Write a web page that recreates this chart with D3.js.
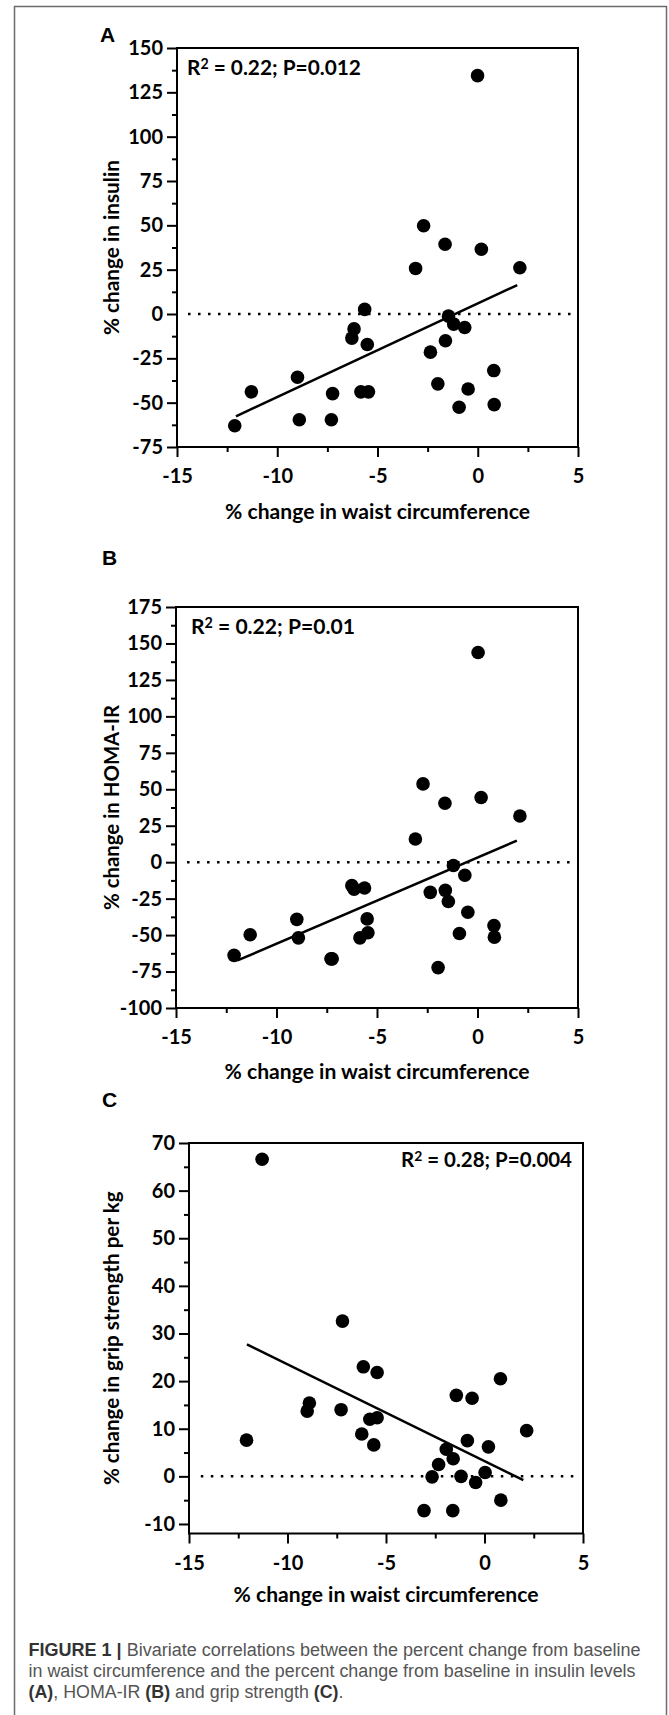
<!DOCTYPE html>
<html>
<head>
<meta charset="utf-8">
<script src="https://cdn.jsdelivr.net/npm/d3@7"></script>
<style>
  body { margin: 0; background: #fff; }
  svg { display: block; }
  .tick text { font-family: Lato, 'Open Sans', sans-serif; font-weight: 700; font-size: 20px; fill: #000; }
  .axis-title { font-family: Lato, 'Open Sans', sans-serif; font-weight: 700; font-size: 20px; fill: #000; }
  .stat { font-family: Lato, 'Open Sans', sans-serif; font-weight: 700; font-size: 20px; fill: #000; }
  .panel-label { font-family: 'Liberation Sans', Arial, sans-serif; font-weight: 700; font-size: 21px; fill: #000; }
  .caption { font-family: 'Liberation Sans', Arial, sans-serif; font-size: 18px; fill: #555; }
</style>
</head>
<body>
<svg width="669" height="1715"></svg>
<script>
  // x axis is shared by all panels
  const xTicks = [-15, -10, -5, 0, 5];
  const xMinor = [-12.5, -7.5, -2.5, 2.5];

  // panel A: % change in insulin
  const waistA = [-0.01, -2.70, -1.63, 0.18, -3.10, 2.10, -5.64, -1.46, -1.20, -0.65, -6.17, -6.28, -5.51, -1.61,
    -2.36, 0.80, -8.99, -11.29, -7.24, -5.83, -5.45, -1.99, -0.48, -0.93, 0.82, -8.90, -7.30, -12.12];
  const insulin = [134.4, 49.8, 39.3, 36.5, 25.7, 26.1, 2.6, -1.2, -5.7, -7.6, -8.4, -13.6, -17.2, -15.1,
    -21.5, -31.9, -35.7, -43.9, -44.9, -43.9, -43.9, -39.4, -42.3, -52.6, -51.1, -59.6, -59.6, -63.0];
  const fitA = [[-12.06, -57.7], [1.97, 16.3]];
  const yTicksA = [-75, -50, -25, 0, 25, 50, 75, 100, 125, 150];
  const yMinorA = [-62.5, -37.5, -12.5, 12.5, 37.5, 62.5, 87.5, 112.5, 137.5];

  // panel B: % change in HOMA-IR
  const waistB = [0.03, -2.71, 0.18, -1.62, 2.11, -3.09, -1.20, -0.63, -6.25, -6.14, -5.62, -2.35, -1.60, -1.45,
    -0.48, -8.99, -5.49, 0.82, -11.31, -5.45, -0.90, -8.91, -5.85, 0.84, -12.11, -7.29, -7.23, -1.96];
  const homa = [143.8, 53.7, 44.4, 40.4, 31.7, 15.9, -2.3, -9.0, -16.1, -18.5, -17.7, -20.7, -19.3, -27.0,
    -34.3, -39.2, -38.9, -43.5, -49.8, -48.4, -48.9, -51.9, -51.9, -51.4, -63.9, -66.3, -66.3, -72.3];
  const fitB = [[-11.94, -67.4], [1.96, 14.8]];
  const yTicksB = [-100, -75, -50, -25, 0, 25, 50, 75, 100, 125, 150, 175];
  const yMinorB = [-87.5, -62.5, -37.5, -12.5, 12.5, 37.5, 62.5, 87.5, 112.5, 137.5, 162.5];

  // panel C: % change in grip strength per kg
  const waistC = [-11.29, -7.21, -6.15, -5.45, 0.81, -1.43, -0.63, -8.89, -9.00, -7.28, -5.82, -5.45, -6.23, -5.62,
    2.14, -0.87, -12.08, 0.20, -1.94, -1.59, -2.33, 0.03, -2.66, -1.19, -0.45, 0.83, -3.07, -1.61];
  const grip = [66.6, 32.6, 23.0, 21.8, 20.5, 17.0, 16.4, 15.4, 13.7, 14.0, 12.0, 12.3, 8.9, 6.6,
    9.6, 7.5, 7.6, 6.2, 5.7, 3.7, 2.5, 0.8, -0.1, 0.0, -1.3, -5.0, -7.2, -7.2];
  const fitC = [[-12.06, 27.7], [1.97, -0.8]];
  const yTicksC = [-10, 0, 10, 20, 30, 40, 50, 60, 70];
  const yMinorC = [-5, 5, 15, 25, 35, 45, 55, 65];

  const xTitle = '% change in waist circumference';

  const svg = d3.select('svg');

  // plain hyphen for negatives, like the original
  const fmt = d => (d < 0 ? '-' + Math.abs(d) : String(d));

  // scale a text's font so it spans the wanted width (the original uses Calibri)
  const fitWidth = (sel, w) => {
    const cur = parseFloat(getComputedStyle(sel.node()).fontSize);
    const len = sel.node().getComputedTextLength();
    sel.style('font-size', (cur * w / len) + 'px');
  };

  // outer figure frame
  svg.append('rect')
    .attr('x', 14.5).attr('y', 6.5)
    .attr('width', 652).attr('height', 1720)
    .attr('fill', 'none')
    .attr('stroke', '#6b6b6b')
    .attr('stroke-width', 1.5);

  const render = p => {
    const x = d3.scaleLinear().domain([-15, 5]).range([p.left, p.right]);
    const y = d3.scaleLinear().domain(p.yDomain).range([p.bottom, p.top]);
    const g = svg.append('g');

    // box
    g.append('rect')
      .attr('x', p.left).attr('y', p.top)
      .attr('width', p.right - p.left).attr('height', p.bottom - p.top)
      .attr('fill', 'none').attr('stroke', '#000').attr('stroke-width', 2);

    const yMinorG = g.append('g')
      .attr('transform', `translate(${p.left},0)`)
      .call(d3.axisLeft(y).tickValues(p.yMinor).tickSize(5).tickFormat(''));
    const yAxisG = g.append('g')
      .attr('transform', `translate(${p.left},0)`)
      .call(d3.axisLeft(y).tickValues(p.yTicks).tickSize(10).tickPadding(4).tickFormat(fmt));
    const xMinorG = g.append('g')
      .attr('transform', `translate(0,${p.bottom})`)
      .call(d3.axisBottom(x).tickValues(xMinor).tickSize(5).tickFormat(''));
    const xAxisG = g.append('g')
      .attr('transform', `translate(0,${p.bottom})`)
      .call(d3.axisBottom(x).tickValues(xTicks).tickSize(10).tickPadding(12).tickFormat(fmt));

    [yMinorG, yAxisG, xMinorG, xAxisG].forEach(a => {
      a.select('.domain').remove();
      a.selectAll('line').attr('stroke', '#000').attr('stroke-width', 2);
    });

    // zero reference line
    g.append('line')
      .attr('x1', x(p.zero[0])).attr('x2', x(p.zero[1]))
      .attr('y1', y(0)).attr('y2', y(0))
      .attr('stroke', '#000').attr('stroke-width', 2.5)
      .attr('stroke-dasharray', '2.5,7.5');

    // fitted line
    g.append('line')
      .attr('x1', x(p.fit[0][0])).attr('y1', y(p.fit[0][1]))
      .attr('x2', x(p.fit[1][0])).attr('y2', y(p.fit[1][1]))
      .attr('stroke', '#000').attr('stroke-width', 2.5);

    g.selectAll('circle').data(p.xs)
      .enter().append('circle')
        .attr('cx', d => x(d))
        .attr('cy', (d, i) => y(p.ys[i]))
        .attr('r', 6.8)
        .attr('fill', '#000');

    // stat label
    const st = g.append('text')
      .attr('class', 'stat')
      .attr('x', p.statX).attr('y', p.statY)
      .attr('text-anchor', p.statAnchor);
    st.append('tspan').text('R');
    st.append('tspan').attr('dy', '-0.45em').attr('font-size', '0.68em').text('2');
    st.append('tspan').attr('dy', '0.306em').text(' = ' + p.stat);
    fitWidth(st, p.statW);

    const xt = g.append('text')
      .attr('class', 'axis-title')
      .attr('x', (p.left + p.right) / 2)
      .attr('y', p.xTitleY)
      .attr('text-anchor', 'middle')
      .text(xTitle);
    fitWidth(xt, 305);

    const yt = g.append('text')
      .attr('class', 'axis-title')
      .attr('transform', `translate(119,${(p.top + p.bottom) / 2}) rotate(-90)`)
      .attr('text-anchor', 'middle')
      .text(p.yTitle);
    fitWidth(yt, p.yTitleW);

    g.append('text')
      .attr('class', 'panel-label')
      .attr('x', p.labelX).attr('y', p.labelY)
      .text(p.label);
  };

  render({
    label: 'A', labelX: 100, labelY: 42,
    left: 177, right: 578, top: 48, bottom: 447,
    yDomain: [-75, 150], yTicks: yTicksA, yMinor: yMinorA,
    xs: waistA, ys: insulin, fit: fitA, zero: [-14.45, 4.8],
    stat: '0.22; P=0.012', statX: 187, statY: 75, statAnchor: 'start', statW: 174,
    yTitle: '% change in insulin', yTitleW: 175, xTitleY: 519
  });

  render({
    label: 'B', labelX: 102, labelY: 565,
    left: 176, right: 578, top: 607, bottom: 1008,
    yDomain: [-100, 175], yTicks: yTicksB, yMinor: yMinorB,
    xs: waistB, ys: homa, fit: fitB, zero: [-14.45, 4.8],
    stat: '0.22; P=0.01', statX: 191, statY: 634, statAnchor: 'start', statW: 164,
    yTitle: '% change in HOMA-IR', yTitleW: 205, xTitleY: 1079
  });

  render({
    label: 'C', labelX: 102, labelY: 1107,
    left: 189, right: 583, top: 1143, bottom: 1533.5,
    yDomain: [-12, 70], yTicks: yTicksC, yMinor: yMinorC,
    xs: waistC, ys: grip, fit: fitC, zero: [-14.4, 4.7],
    stat: '0.28; P=0.004', statX: 572, statY: 1167, statAnchor: 'end', statW: 171,
    yTitle: '% change in grip strength per kg', yTitleW: 294, xTitleY: 1602
  });

  // caption
  const captionLines = [
    [['FIGURE 1 | ', true], ['Bivariate correlations between the percent change from baseline', false]],
    [['in waist circumference and the percent change from baseline in insulin levels', false]],
    [['(A)', true], [', HOMA-IR ', false], ['(B)', true], [' and grip strength ', false], ['(C)', true], ['.', false]]
  ];
  const captionWidths = [612, 607, 315];

  captionLines.forEach((line, i) => {
    const t = svg.append('text')
      .attr('class', 'caption')
      .attr('x', 28.5)
      .attr('y', 1656 + i * 21)
      .attr('textLength', captionWidths[i])
      .attr('lengthAdjust', 'spacingAndGlyphs');
    line.forEach(([s, bold]) => {
      t.append('tspan')
        .attr('font-weight', bold ? 700 : 400)
        .attr('fill', bold ? '#333' : '#555')
        .text(s);
    });
  });
</script>
</body>
</html>
